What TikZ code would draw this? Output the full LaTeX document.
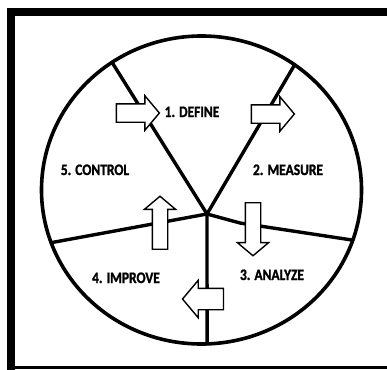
\documentclass[tikz,border=0pt]{standalone}
\usepackage{fontspec}
\newfontfamily\stepfont{Carlito}[FakeStretch=0.84, BoldFeatures={FakeBold=1.3}]
\usepackage{tikz}
\usetikzlibrary{shapes.arrows, calc}

\begin{document}
\begin{tikzpicture}[x=1pt, y=-1pt,
    rim/.style={line width=3.6pt},
    spoke/.style={line width=3.4pt, line join=round, line cap=round},
    flow/.style={single arrow, draw, fill=white, line width=1.4pt,
      inner sep=8.5pt, single arrow head extend=8pt,
      single arrow tip angle=100},
    phase/.style={anchor=base, inner sep=0pt,
      font=\stepfont\bfseries\fontsize{16}{16}\selectfont}
  ]
  \useasboundingbox (0,0) rectangle (387,369);

  % frame (right side runs off the page)
  \coordinate (fbl) at (10.5,372);
  \coordinate (ftl) at (10.5,12.5);
  \coordinate (ftr) at (395,12.5);
  \coordinate (fbr) at (395,367.5);
  \draw[line width=8pt] (fbl) -- (ftl) -- (ftr);
  \draw[line width=2.5pt] (fbl |- fbr) -- (fbr);

  % wheel and spokes
  \coordinate (c) at (201.5,190);
  \coordinate (hub) at (207,214);
  \coordinate (bend) at (240,223);
  \draw[rim] (c) ellipse [x radius=160, y radius=154];
  \foreach \a/\n in {236/tl, 305.6/tr, 19/r, 88/b, 160/l}
    \coordinate (s\n) at ($(c)+(\a:160 and 154)$);
  \draw[spoke] (stl) -- (hub) -- (str);
  \draw[spoke] (sl) -- (hub) -- (bend) -- (sr);
  \draw[spoke] (hub) -- (sb);

  % block arrows
  \node[flow, minimum height=43pt] (a1) at (134,113) {};
  \node[flow, minimum height=43pt] (a2) at (269,114) {};
  \node[flow, minimum height=53pt, inner sep=7pt, rotate=-90] (a3) at (253,226) {};
  \node[flow, minimum height=41pt, inner sep=10pt, rotate=180] (a4) at (207.5,299) {};
  \node[flow, minimum height=53pt, inner sep=7pt, rotate=90] (a5) at (160,226) {};

  % phases
  \node[phase] (define) at (192,117) {1. DEFINE};
  \node[phase] (measure) at (288,175) {2. MEASURE};
  \node[phase] (analyze) at (272,280) {3. ANALYZE};
  \node[phase] (improve) at (126,283) {4. IMPROVE};
  \node[phase] (control) at (95,175) {5. CONTROL};
\end{tikzpicture}
\end{document}
